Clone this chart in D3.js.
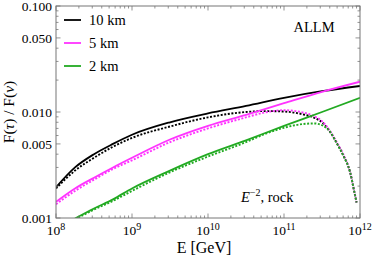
<!DOCTYPE html>
<html>
<head>
<meta charset="utf-8">
<script src="https://cdn.jsdelivr.net/npm/d3@7"></script>
<style>
  body { margin: 0; background: #fff; }
  svg text { font-family: "Liberation Serif", "DejaVu Serif"; }
</style>
</head>
<body>
<div id="chart"></div>
<script>
'use strict';

// log10(E/GeV) grids
const solidLogE = [8, 8.25, 8.5, 8.75, 9, 9.5, 10, 10.5, 11, 11.5, 12];
const dotLogE = [8, 8.25, 8.5, 8.75, 9, 9.5, 10, 10.5, 10.75, 11, 11.25, 11.4, 11.5, 11.6, 11.7, 11.78, 11.87, 11.93, 11.955];

// solid curves
const solid10 = [0.00195, 0.0030, 0.0040, 0.0050, 0.0061, 0.0080, 0.0097, 0.0114, 0.0136, 0.0157, 0.0176];
const solid5 = [0.00142, 0.0019, 0.0024, 0.0030, 0.0037, 0.0055, 0.0074, 0.0094, 0.0121, 0.0155, 0.0193];
const solid2 = [null, 0.00099, 0.00123, 0.0015, 0.0019, 0.0028, 0.0040, 0.0054, 0.0074, 0.0100, 0.0136];

// dotted curves
const dot10 = [0.0019, 0.0028, 0.0037, 0.0047, 0.0057, 0.0073, 0.0089, 0.0100, 0.0102, 0.0101, 0.0095, 0.0088, 0.0080, 0.0066, 0.0050, 0.0039, 0.0027, 0.0017, 0.0014];
const dot5 = [0.00135, 0.0018, 0.0023, 0.0029, 0.0035, 0.0052, 0.0070, 0.0089, 0.0099, 0.0104, 0.0099, 0.0091, 0.0082, 0.0067, 0.0051, 0.0040, 0.0027, 0.0017, 0.0014];
const dot2 = [null, 0.00097, 0.00120, 0.00145, 0.0018, 0.0027, 0.0038, 0.0052, 0.0062, 0.0071, 0.0077, 0.0078, 0.0075, 0.0066, 0.0050, 0.0039, 0.0027, 0.0017, 0.0014];

const legendLabels = ["10 km", "5 km", "2 km"];
const colors = ["#000000", "#ff33ff", "#22aa22"];
const xTickExp = [8, 9, 10, 11, 12];
const yTickVals = [0.001, 0.005, 0.01, 0.05, 0.1];
const yTickText = ["0.001", "0.005", "0.010", "0.050", "0.100"];

const width = 372, height = 261;
const margin = {top: 6, right: 12, bottom: 43, left: 56};
const iw = width - margin.left - margin.right;
const ih = height - margin.top - margin.bottom;

const svg = d3.select("#chart").append("svg")
    .attr("width", width)
    .attr("height", height);

const x = d3.scaleLog().domain([1e8, 1e12]).range([0, iw]);
const y = d3.scaleLog().domain([0.001, 0.1]).range([ih, 0]);

const plot = svg.append("g")
    .attr("transform", `translate(${margin.left},${margin.top})`);

plot.append("clipPath").attr("id", "clip")
  .append("rect").attr("width", iw).attr("height", ih);

// curves
const line = d3.line()
    .defined(d => d[1] != null)
    .x(d => x(Math.pow(10, d[0])))
    .y(d => y(d[1]))
    .curve(d3.curveMonotoneX);

const curves = plot.append("g").attr("clip-path", "url(#clip)").attr("fill", "none");

const dotted = [dot10, dot5, dot2];
dotted.forEach((vals, i) => {
  curves.append("path")
      .attr("d", line(dotLogE.map((e, j) => [e, vals[j]])))
      .attr("stroke", colors[i])
      .attr("stroke-width", 1.9)
      .attr("stroke-dasharray", "2,1.6");
});

const solids = [solid10, solid5, solid2];
solids.forEach((vals, i) => {
  curves.append("path")
      .attr("d", line(solidLogE.map((e, j) => [e, vals[j]])))
      .attr("stroke", colors[i])
      .attr("stroke-width", 1.8);
});

// frame and ticks
const frameColor = "#777";
plot.append("rect")
    .attr("width", iw).attr("height", ih)
    .attr("fill", "none").attr("stroke", frameColor).attr("stroke-width", 1);

const ticks = plot.append("g").attr("stroke", frameColor).attr("stroke-width", 0.8);

const xMinor = [];
for (let e = 8; e < 12; e++) for (let m = 2; m <= 9; m++) xMinor.push(m * Math.pow(10, e));
const yMinor = [];
for (let e = -3; e < -1; e++) for (let m = 2; m <= 9; m++) yMinor.push(m * Math.pow(10, e));

xTickExp.forEach(e => {
  const px = x(Math.pow(10, e));
  ticks.append("line").attr("x1", px).attr("x2", px).attr("y1", ih).attr("y2", ih - 4.5);
  ticks.append("line").attr("x1", px).attr("x2", px).attr("y1", 0).attr("y2", 4.5);
});
xMinor.forEach(v => {
  const px = x(v);
  ticks.append("line").attr("x1", px).attr("x2", px).attr("y1", ih).attr("y2", ih - 2.5);
  ticks.append("line").attr("x1", px).attr("x2", px).attr("y1", 0).attr("y2", 2.5);
});
const yMajor = [0.001, 0.01, 0.1];
yMinor.forEach(v => {
  const py = y(v);
  const len = (v === 0.005 || v === 0.05) ? 4.5 : 2.5;
  ticks.append("line").attr("x1", 0).attr("x2", len).attr("y1", py).attr("y2", py);
  ticks.append("line").attr("x1", iw).attr("x2", iw - len).attr("y1", py).attr("y2", py);
});
yMajor.forEach(v => {
  const py = y(v);
  ticks.append("line").attr("x1", 0).attr("x2", 4.5).attr("y1", py).attr("y2", py);
  ticks.append("line").attr("x1", iw).attr("x2", iw - 4.5).attr("y1", py).attr("y2", py);
});

// tick labels
plot.append("g").selectAll("text")
    .data(yTickVals)
    .join("text")
    .attr("x", -4)
    .attr("y", d => y(d))
    .attr("dy", "0.35em")
    .attr("text-anchor", "end")
    .attr("font-size", 13.5)
    .text((d, i) => yTickText[i]);

const xl = plot.append("g").selectAll("text")
    .data(xTickExp)
    .join("text")
    .attr("x", d => x(Math.pow(10, d)))
    .attr("y", ih + 17)
    .attr("text-anchor", "middle")
    .attr("font-size", 13.5);
xl.append("tspan").text("10");
xl.append("tspan").attr("dy", -5).attr("font-size", 10).text(d => d);

// axis titles
svg.append("text")
    .attr("x", margin.left + iw / 2 - 4)
    .attr("y", 253)
    .attr("text-anchor", "middle")
    .attr("font-size", 16)
    .text("E [GeV]");

const yt = svg.append("text")
    .attr("transform", `translate(14,${margin.top + ih / 2}) rotate(-90)`)
    .attr("text-anchor", "middle")
    .attr("font-size", 15.5);
yt.append("tspan").text("F(");
yt.append("tspan").attr("font-style", "italic").text("τ");
yt.append("tspan").text(") / F(");
yt.append("tspan").attr("font-style", "italic").text("ν");
yt.append("tspan").text(")");

// legend
const legend = plot.append("g").selectAll("g")
    .data(legendLabels)
    .join("g")
    .attr("transform", (d, i) => `translate(8,${14 + i * 23})`);
legend.append("line")
    .attr("x1", 0).attr("x2", 17)
    .attr("stroke", (d, i) => colors[i])
    .attr("stroke-width", 1.8);
legend.append("text")
    .attr("x", 25)
    .attr("dy", "0.35em")
    .attr("font-size", 14.5)
    .text(d => d);

// annotations
plot.append("text")
    .attr("x", 258)
    .attr("y", 21)
    .attr("dy", "0.35em")
    .attr("text-anchor", "middle")
    .attr("font-size", 14.5)
    .text("ALLM");

const note = plot.append("text")
    .attr("x", 185)
    .attr("y", 196)
    .attr("font-size", 14.5);
note.append("tspan").attr("font-style", "italic").text("E");
note.append("tspan").attr("dy", -6).attr("font-size", 10).text("−2");
note.append("tspan").attr("dy", 6).text(",  rock");
</script>
</body>
</html>
